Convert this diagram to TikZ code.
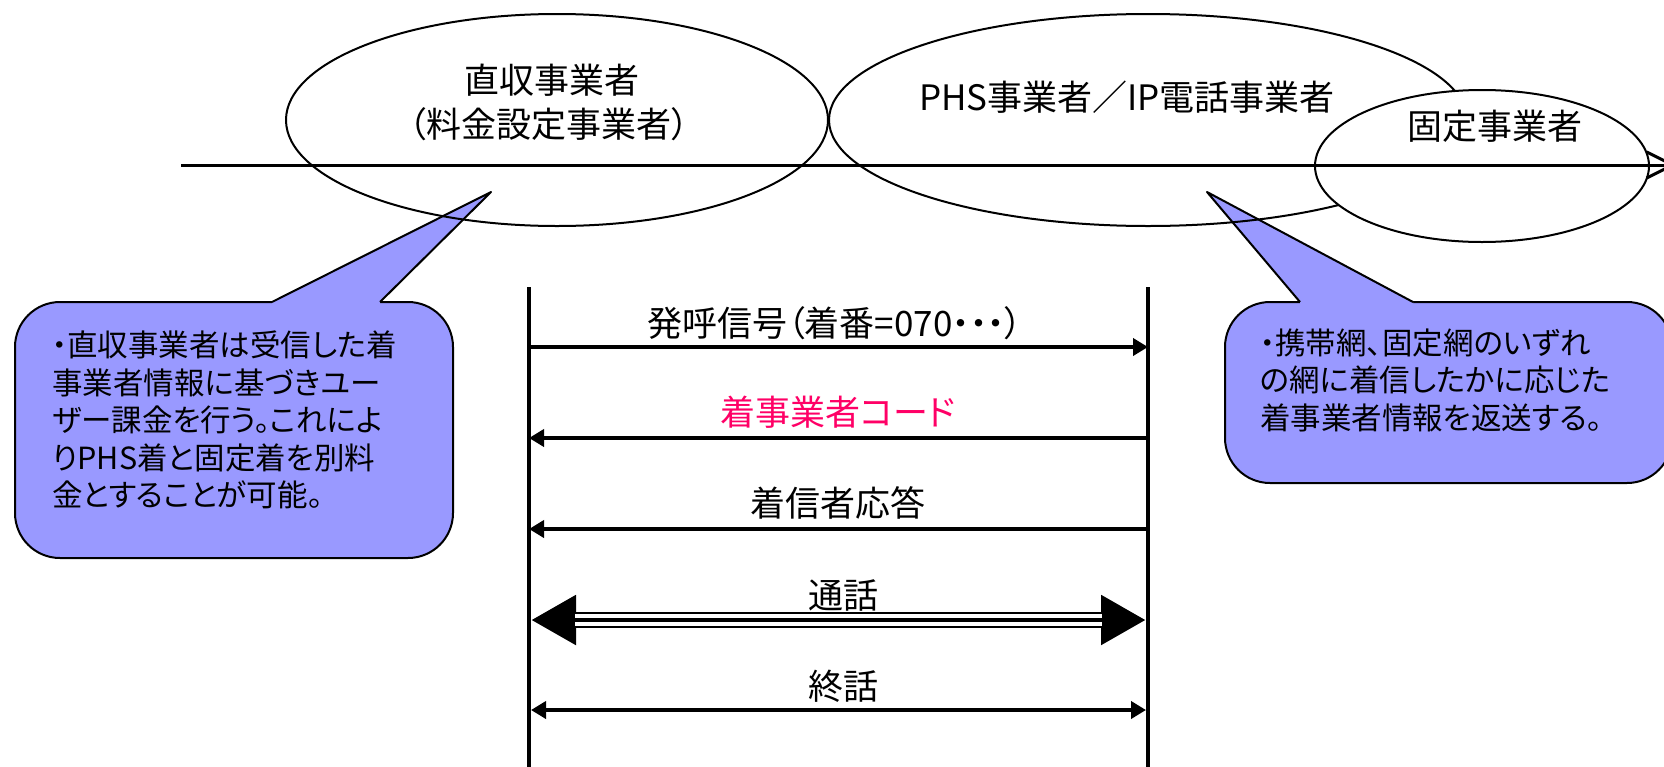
\documentclass[tikz,border=0pt]{standalone}
\usepackage{fontspec}
\setmainfont{Noto Sans CJK JP}[RawFeature=+palt]
\usetikzlibrary{arrows.meta,shapes.geometric}
\definecolor{callfill}{HTML}{9999FF}
\definecolor{codepink}{HTML}{FF0066}
\tikzset{
  lbl/.style={inner sep=0pt, font=\fontsize{35}{42}\selectfont},
  ctext/.style={inner sep=0pt, align=left, font=\fontsize{30.5}{37.5}\selectfont},
  oval/.style={ellipse, draw=black, line width=2pt, inner sep=0pt},
  callbox/.style={fill=callfill, draw=black, line width=2pt, rounded corners=45pt},
  wedge/.style={draw=black, line width=2pt, line join=round},
  life/.style={line width=4.5pt},
  msg/.style={line width=4.5pt},
}
\begin{document}
\begin{tikzpicture}[x=1pt,y=-1pt]
\useasboundingbox (0,0) rectangle (1664,766);
\clip (0,0) rectangle (1664,766);
% callout 1
\path[callbox] (15,302) rectangle (453,558);
\fill[callfill] (272,302) -- (491,192) -- (380,302) -- (380,304.5) -- (272,304.5) -- cycle;
\draw[wedge] (272,302) -- (491,192) -- (380,302);
\node[ctext, anchor=west] (c1) at (52,420) {・直収事業者は受信した着\\事業者情報に基づきユー\\ザー課金を行う。これによ\\りPHS着と固定着を別料\\金とすることが可能。};
% callout 2
\path[callbox] (1225,302) rectangle (1672,483);
\fill[callfill] (1300,302) -- (1207,192) -- (1413,302) -- (1413,304.5) -- (1300,304.5) -- cycle;
\draw[wedge] (1300,302) -- (1207,192) -- (1413,302);
\node[ctext, anchor=west] (c2) at (1260,380) {・携帯網、固定網のいずれ\\の網に着信したかに応じた\\着事業者情報を返送する。};
% ellipses
\node[oval, minimum width=542pt, minimum height=212pt] (e1) at (557,120) {};
\node[oval, minimum width=638pt, minimum height=212pt] (e2) at (1148,120) {};
\node[oval, fill=white, minimum width=334pt, minimum height=152pt] (e3) at (1482,166) {};
\node[lbl] (t1) at (552,80) {直収事業者};
\node[lbl] (t1b) at (549,124) {（料金設定事業者）};
\node[lbl] (t2) at (1127,97) {PHS事業者／IP電話事業者};
\node[lbl] (t3) at (1495,126) {固定事業者};
% horizontal axis
\coordinate (h0) at (181,165);
\coordinate (h1) at (1676,165);
\draw[line width=3pt, -{Straight Barb[length=26pt,width=26pt,line width=3pt]}] (h0) -- (h1);
% lifelines
\coordinate (A0) at (529,287); \coordinate (A1) at (529,770);
\coordinate (B0) at (1148,287); \coordinate (B1) at (1148,770);
\draw[life] (A0) -- (A1);
\draw[life] (B0) -- (B1);
% messages
\coordinate (a1) at (529,347); \coordinate (b1) at (1148,347);
\coordinate (a2) at (529,438); \coordinate (b2) at (1148,438);
\coordinate (a3) at (529,529); \coordinate (b3) at (1148,529);
\coordinate (a4) at (531,620); \coordinate (b4) at (1146,620);
\coordinate (a5) at (531,710); \coordinate (b5) at (1146,710);
\draw[msg, -{Triangle[length=15pt,width=17pt]}] (a1) -- (b1);
\draw[msg, -{Triangle[length=15pt,width=17pt]}] (b2) -- (a2);
\draw[msg, -{Triangle[length=15pt,width=17pt]}] (b3) -- (a3);
\draw[line width=16pt, {Triangle[length=45pt,width=47pt]}-{Triangle[length=45pt,width=47pt]}] (a4) -- (b4);
\draw[white, line width=12pt] ([xshift=44pt]a4) -- ([xshift=-44pt]b4);
\draw[black, line width=4pt] ([xshift=44pt]a4) -- ([xshift=-44pt]b4);
\draw[msg, {Triangle[length=15pt,width=17pt]}-{Triangle[length=15pt,width=17pt]}] (a5) -- (b5);
\node[lbl] (m1) at (835,323) {発呼信号（着番=070・・・）};
\node[lbl, text=codepink] (m2) at (838,412) {着事業者コード};
\node[lbl] (m3) at (838,503) {着信者応答};
\node[lbl] (m4) at (843,595) {通話};
\node[lbl] (m5) at (843,686) {終話};
\end{tikzpicture}
\end{document}
